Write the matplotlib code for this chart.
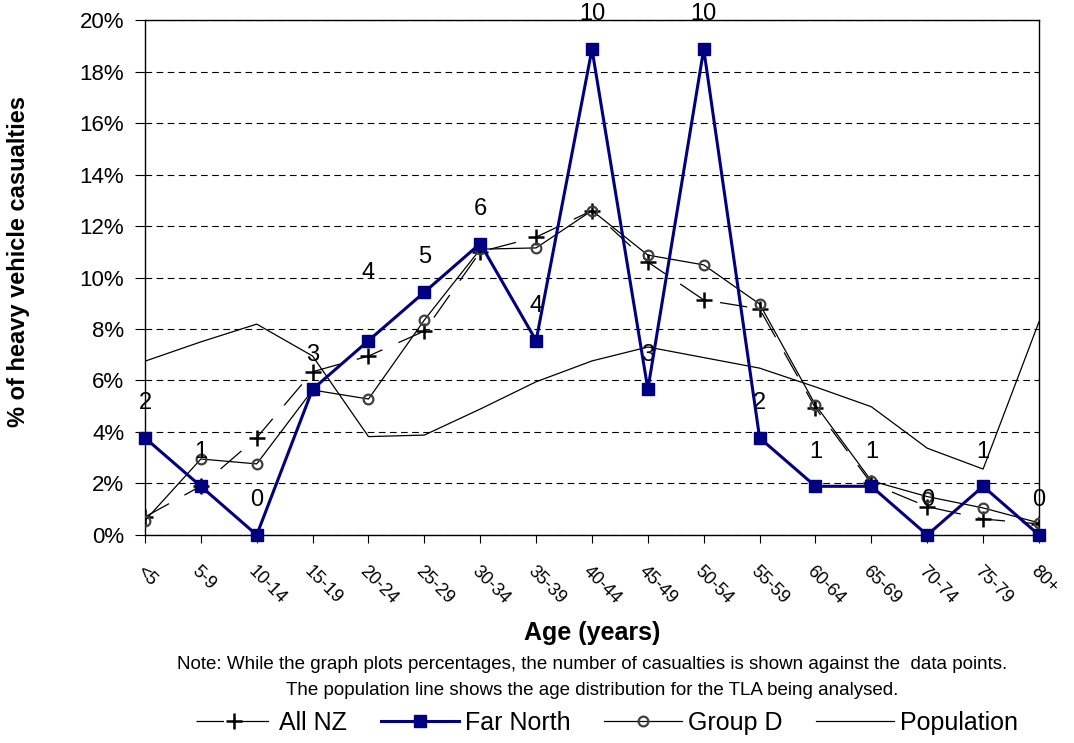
import matplotlib
matplotlib.use('Agg')
import matplotlib.pyplot as plt
import matplotlib.transforms as mtransforms
import numpy as np

plt.rcParams['font.family'] = ['Liberation Sans', 'DejaVu Sans']

# Age groups
ages = ['<5', '5-9', '10-14', '15-19', '20-24', '25-29', '30-34', '35-39', '40-44',
        '45-49', '50-54', '55-59', '60-64', '65-69', '70-74', '75-79', '80+']

# Far North casualty counts (labels) and percentages
far_north_counts = [2, 1, 0, 3, 4, 5, 6, 4, 10, 3, 10, 2, 1, 1, 0, 1, 0]
far_north_pct = [3.77, 1.89, 0.0, 5.66, 7.55, 9.43, 11.32, 7.55, 18.87, 5.66,
                 18.87, 3.77, 1.89, 1.89, 0.0, 1.89, 0.0]

# Other series (percent)
all_nz_pct = [0.70, 1.90, 3.78, 6.34, 6.95, 7.92, 11.0, 11.57, 12.6, 10.6,
              9.13, 8.78, 4.93, 2.0, 1.10, 0.62, 0.43]
group_d_pct = [0.56, 2.95, 2.76, 5.63, 5.28, 8.35, 11.1, 11.15, 12.6, 10.87,
               10.49, 8.97, 5.05, 2.1, 1.49, 1.05, 0.47]
population_pct = [6.75, 7.50, 8.19, 6.95, 3.82, 3.88, 4.89, 5.95, 6.76, 7.30,
                  6.89, 6.48, 5.75, 4.98, 3.37, 2.56, 8.28]

x = np.arange(len(ages))

fig = plt.figure(figsize=(10.74, 7.43), dpi=100)
ax = fig.add_axes([0.135, 0.28, 0.8324, 0.693])

ax.plot(x, population_pct, color='black', linewidth=0.9, label='Population', zorder=2)
ax.plot(x, all_nz_pct, color='black', linewidth=0.9, linestyle=(0, (22, 14)),
        marker='+', markersize=11, markeredgewidth=1.8, label='All NZ', zorder=3)
ax.plot(x, group_d_pct, color='black', linewidth=0.9, marker='o', markersize=7,
        markerfacecolor='none', markeredgecolor='#404040', markeredgewidth=1.6,
        label='Group D', zorder=3)
ax.plot(x, far_north_pct, color='#000080', linewidth=2.2, marker='s', markersize=9,
        label='Far North', zorder=4, clip_on=False)

# casualty counts above the Far North points (the 20-24 one sits a bit higher)
for xi, yi, n in zip(x, far_north_pct, far_north_counts):
    dy = 49 if xi == 4 else 25
    ax.annotate(str(n), (xi, yi), xytext=(0, dy), textcoords='offset points',
                ha='center', va='center', fontsize=17, annotation_clip=False)

ax.set_xlim(0, 16)
ax.set_ylim(0, 20)
ax.set_yticks(np.arange(0, 21, 2))
ax.set_yticklabels([f'{v}%' for v in range(0, 21, 2)], fontsize=16)
ax.set_xticks(x)
ax.set_xticklabels(ages, rotation=-45, ha='left', va='top', fontsize=13,
                   rotation_mode='anchor')
shift = mtransforms.ScaledTranslation(6 / 100, 0, fig.dpi_scale_trans)
for lbl in ax.get_xticklabels():
    lbl.set_transform(lbl.get_transform() + shift)
ax.tick_params(axis='x', direction='out', length=6, pad=14)
ax.tick_params(axis='y', direction='out', length=7, pad=8)
ax.yaxis.grid(True, linestyle=(0, (6, 4)), color='black', linewidth=0.8)
ax.set_axisbelow(True)

for s in ax.spines.values():
    s.set_linewidth(1.0)

ax.set_ylabel('% of heavy vehicle casualties', fontsize=17, fontweight='bold')
ax.yaxis.set_label_coords(-0.142, 0.532)
ax.yaxis.label.set_va('center')
fig.text(0.551, 0.148, 'Age (years)', ha='center', va='center', fontsize=18, fontweight='bold')
fig.text(0.551, 0.106, 'Note: While the graph plots percentages, the number of casualties is shown against the  data points.',
         ha='center', va='center', fontsize=13.5)
fig.text(0.551, 0.071, 'The population line shows the age distribution for the TLA being analysed.',
         ha='center', va='center', fontsize=13.5)

handles, labels = ax.get_legend_handles_labels()
order = [1, 3, 2, 0]
fig.legend([handles[i] for i in order], [labels[i] for i in order],
           loc='center', bbox_to_anchor=(0.565, 0.027), ncol=4, frameon=False,
           fontsize=18, handlelength=3.1, columnspacing=1.35, handletextpad=0.25)

fig.savefig('out.png', dpi=100)
